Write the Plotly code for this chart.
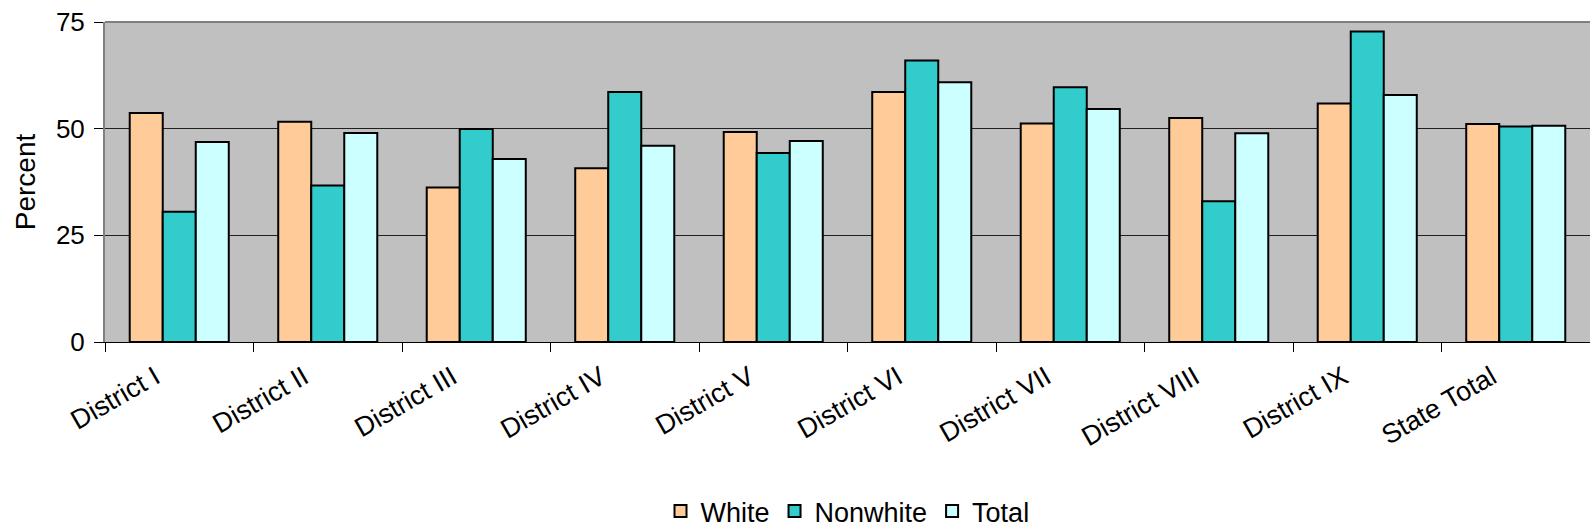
import plotly.graph_objects as go

categories = ["District I", "District II", "District III", "District IV", "District V",
              "District VI", "District VII", "District VIII", "District IX", "State Total"]
white = [53.7, 51.6, 36.2, 40.7, 49.2, 58.6, 51.2, 52.5, 55.9, 51.1]
nonwhite = [30.5, 36.7, 49.9, 58.6, 44.3, 66.0, 59.7, 33.0, 72.8, 50.5]
total = [46.9, 49.0, 42.9, 46.0, 47.1, 60.9, 54.6, 48.9, 57.9, 50.7]
y_ticks = [0, 25, 50, 75]

series = [("White", white, "#FFCC99"), ("Nonwhite", nonwhite, "#33CCCC"), ("Total", total, "#CCFFFF")]

fig = go.Figure()
for name, vals, color in series:
    fig.add_trace(go.Bar(x=categories, y=vals, name=name,
                         marker=dict(color=color, line=dict(color="black", width=2))))

FONT = "Liberation Sans, Arial, sans-serif"
fig.update_layout(
    width=1590, height=530,
    margin=dict(l=105, r=0, t=22, b=188, autoexpand=False),
    paper_bgcolor="white", plot_bgcolor="#C0C0C0",
    font=dict(family=FONT, size=27, color="black"),
    barmode="group", bargap=0.333, bargroupgap=0,
    showlegend=True,
    legend=dict(orientation="h", x=0.5, xanchor="center", yref="container", y=0.035,
                yanchor="middle", font=dict(size=27), itemwidth=30, traceorder="normal"),
    xaxis=dict(type="category", tickson="boundaries", ticks="outside", ticklen=9,
               tickcolor="black", tickangle=-30, showline=True, linecolor="black",
               linewidth=1, showgrid=False, tickfont=dict(size=27), automargin=False,
               ticklabelshift=-24, ticklabelstandoff=8),
    yaxis=dict(range=[0, 75], tickvals=y_ticks, ticks="outside", ticklen=9,
               tickcolor="black", showline=True, linecolor="#808080", linewidth=2,
               showgrid=True, gridcolor="#202020", gridwidth=1, zeroline=False,
               ticklabelstandoff=4, automargin=False,
               title=dict(text="Percent", font=dict(size=28), standoff=12),
               tickfont=dict(size=26)),
)
# top border of plot area
fig.add_shape(type="line", xref="paper", yref="paper", x0=0, x1=1, y0=1, y1=1,
              line=dict(color="#808080", width=2))

fig.write_html("out.html", config={"displayModeBar": False},
               post_script="document.body.style.margin='0';")
